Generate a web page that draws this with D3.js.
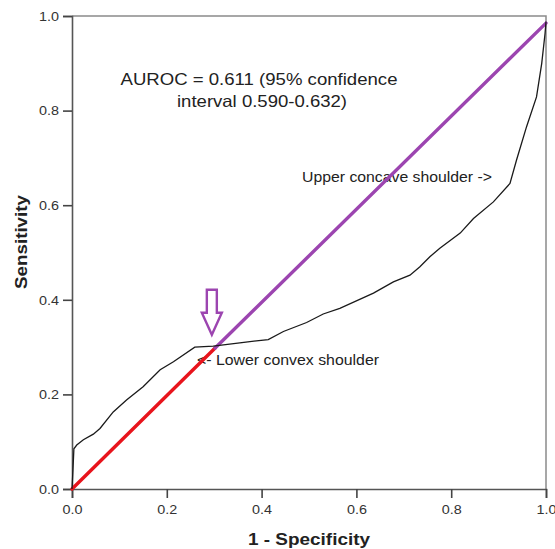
<!DOCTYPE html>
<html>
<head>
<meta charset="utf-8">
<script src="https://cdn.jsdelivr.net/npm/d3@7"></script>
<style>
  body { margin: 0; background: #fff; }
  text { font-family: "Liberation Sans", Arial, sans-serif; }
</style>
</head>
<body>
<div id="chart"></div>
<script>
// ROC curve
const fpr = [0, 0.002, 0.004, 0.01, 0.024, 0.045, 0.059, 0.087, 0.115, 0.150, 0.186, 0.214, 0.259, 0.298, 0.354,
	0.414, 0.446, 0.495, 0.530, 0.565, 0.636, 0.678, 0.713, 0.734, 0.755, 0.776, 0.819, 0.847, 0.889, 0.924,
	0.938, 0.959, 0.980, 0.991, 0.998, 1.0];
const tpr = [0, 0.04, 0.085, 0.093, 0.104, 0.116, 0.128, 0.163, 0.188, 0.216, 0.252, 0.269, 0.300, 0.302, 0.309,
	0.316, 0.333, 0.352, 0.370, 0.382, 0.414, 0.438, 0.452, 0.470, 0.491, 0.509, 0.541, 0.572, 0.607, 0.646,
	0.696, 0.766, 0.829, 0.900, 0.963, 0.988];

// reference diagonal, split at the lower shoulder
const redSeg = [[0, 0], [0.302, 0.298]];
const purpleSeg = [[0.302, 0.298], [1, 0.985]];
const arrowTip = [0.295, 0.326];

const ticks = [0, 0.2, 0.4, 0.6, 0.8, 1.0];

const W = 555, H = 549;
const m = { left: 72, right: 9, top: 16, bottom: 60 };

const svg = d3.select('#chart').append('svg')
	.attr('width', W)
	.attr('height', H);

const x = d3.scaleLinear().domain([0, 1]).range([m.left, W - m.right]);
const y = d3.scaleLinear().domain([0, 1]).range([H - m.bottom, m.top]);

// frame (top / right)
svg.append('path')
	.attr('d', `M${x(0)},${y(1)}H${x(1)}V${y(0)}`)
	.attr('fill', 'none')
	.attr('stroke', '#8a8a8a')
	.attr('stroke-width', 1.5);

function styleAxis(g) {
	g.select('.domain').attr('stroke', '#555').attr('stroke-width', 1.6);
	g.selectAll('.tick line').attr('stroke', '#444').attr('stroke-width', 1.6);
	g.selectAll('.tick text')
		.attr('fill', '#333')
		.style('font-size', '13.5px')
		.attr('textLength', 20)
		.attr('lengthAdjust', 'spacingAndGlyphs');
}

svg.append('g')
	.attr('transform', `translate(0,${y(0)})`)
	.call(d3.axisBottom(x).tickValues(ticks).tickFormat(d3.format('.1f')).tickSizeOuter(0).tickSize(9).tickPadding(6))
	.call(styleAxis);

svg.append('g')
	.attr('transform', `translate(${x(0)},0)`)
	.call(d3.axisLeft(y).tickValues(ticks).tickFormat(d3.format('.1f')).tickSizeOuter(0).tickSize(9).tickPadding(4))
	.call(styleAxis);

// axis titles
svg.append('text')
	.attr('x', (x(0) + x(1)) / 2)
	.attr('y', 545)
	.attr('text-anchor', 'middle')
	.style('font-size', '16px')
	.style('font-weight', 'bold')
	.attr('fill', '#222')
	.attr('textLength', 122)
	.attr('lengthAdjust', 'spacingAndGlyphs')
	.text('1 - Specificity');

svg.append('text')
	.attr('transform', `translate(27,242) rotate(-90)`)
	.attr('text-anchor', 'middle')
	.style('font-size', '16.5px')
	.style('font-weight', 'bold')
	.attr('fill', '#222')
	.attr('textLength', 94)
	.attr('lengthAdjust', 'spacingAndGlyphs')
	.text('Sensitivity');

// annotations
const ann = svg.append('g').attr('fill', '#222');
ann.append('text').attr('x', 259).attr('y', 85).attr('text-anchor', 'middle')
	.style('font-size', '16.5px').attr('textLength', 277).attr('lengthAdjust', 'spacingAndGlyphs')
	.text('AUROC = 0.611 (95% confidence');
ann.append('text').attr('x', 262).attr('y', 107).attr('text-anchor', 'middle')
	.style('font-size', '16.5px').attr('textLength', 170).attr('lengthAdjust', 'spacingAndGlyphs')
	.text('interval 0.590-0.632)');
ann.append('text').attr('x', 302).attr('y', 182)
	.style('font-size', '14.5px').attr('textLength', 190).attr('lengthAdjust', 'spacingAndGlyphs')
	.text('Upper concave shoulder ->');
ann.append('text').attr('x', 197).attr('y', 365)
	.style('font-size', '14.5px').attr('textLength', 182).attr('lengthAdjust', 'spacingAndGlyphs')
	.text('<- Lower convex shoulder');

// diagonal
const line = d3.line().x(d => x(d[0])).y(d => y(d[1]));
svg.append('path').datum(redSeg).attr('d', line)
	.attr('fill', 'none').attr('stroke', '#e8141c').attr('stroke-width', 3.4).attr('stroke-linecap', 'round');
svg.append('path').datum(purpleSeg).attr('d', line)
	.attr('fill', 'none').attr('stroke', '#9c45b0').attr('stroke-width', 3.4).attr('stroke-linecap', 'round');

// ROC curve
const roc = fpr.map((f, i) => [f, tpr[i]]);
svg.append('path').datum(roc).attr('d', line)
	.attr('fill', 'none').attr('stroke', '#1a1a1a').attr('stroke-width', 1.3);

// arrow pointing at the lower shoulder
const tx = x(arrowTip[0]), ty = y(arrowTip[1]);
svg.append('path')
	.attr('d', `M${tx},${ty} L${tx - 10},${ty - 22} L${tx - 5},${ty - 22} L${tx - 5},${ty - 45}
		L${tx + 5},${ty - 45} L${tx + 5},${ty - 22} L${tx + 10},${ty - 22} Z`)
	.attr('fill', 'none')
	.attr('stroke', '#9c45b0')
	.attr('stroke-width', 2.4)
	.attr('stroke-linejoin', 'miter');
</script>
</body>
</html>
